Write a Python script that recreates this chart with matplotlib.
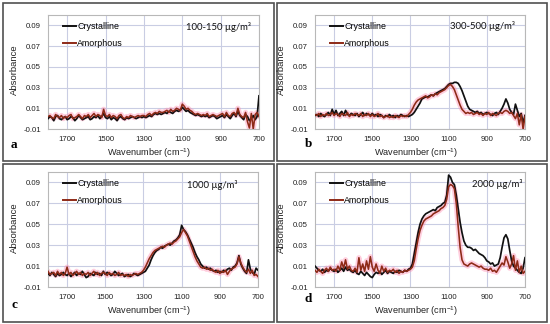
#!/usr/bin/env python3
"""FTIR absorbance of crystalline vs amorphous silica at four concentrations."""

import numpy as np
import matplotlib

matplotlib.use("Agg")
import matplotlib.pyplot as plt
from matplotlib.lines import Line2D
from matplotlib.patches import Rectangle

plt.rcParams["font.family"] = ["Liberation Sans", "DejaVu Sans"]
plt.rcParams["mathtext.fontset"] = "custom"
plt.rcParams["mathtext.rm"] = "Liberation Sans"

# wavenumber grid, 1800 -> 700 cm-1 every 10
WAVENUMBER = np.arange(1800, 699, -10)

# absorbance, in units of 0.001
A_CRYST = [
    0, 2, 1, -2, 2, 3, 0, -1, 1, 2,
    -1, 0, 2, 1, -2, 0, 3, 1, -1, 0,
    1, 2, -1, 0, 2, 1, 3, 0, 2, 5,
    1, 0, 2, -1, 1, 0, -2, 1, 2, 0,
    -1, 1, 0, 1, 2, 1, 0, 1, 2, 1,
    2, 1, 2, 3, 2, 4, 5, 4, 5, 4,
    5, 6, 5, 7, 6, 5, 7, 8, 7, 8,
    11, 9, 7, 8, 6, 5, 4, 3, 4, 3,
    2, 3, 2, 3, 1, 2, 3, 2, 0, 1,
    2, 3, 1, 4, 2, 0, 3, 5, 2, 7,
    3, 1, -1, 4, 2, -2, 0, 3, -1, 2,
    22,
]
A_AMORPH = [
    2, 3, 1, 0, 4, 2, 1, 3, 0, 2,
    1, 3, 4, 0, 1, 2, 4, 2, 0, 3,
    2, 4, 1, 3, 5, 2, 4, 3, 1, 9,
    3, 2, 4, 1, 3, 2, 0, 3, 4, 1,
    0, 2, 1, 3, 2, 1, 2, 3, 2, 3,
    3, 2, 4, 5, 3, 5, 6, 5, 7, 6,
    6, 7, 8, 6, 9, 7, 8, 10, 9, 8,
    14, 12, 9, 10, 8, 7, 5, 4, 5, 4,
    3, 4, 3, 5, 2, 3, 4, 3, 2, 3,
    4, 5, 2, 6, 3, 2, 5, 6, 3, 10,
    4, 2, 1, 6, -3, -9, 5, -10, 4, 6,
    2,
]

B_CRYST = [
    3, 4, 2, 5, 3, 2, 4, 6, 3, 9,
    4, 8, 3, 5, 7, 3, 8, 4, 3, 5,
    4, 3, 5, 2, 4, 6, 3, 5, 4, 3,
    5, 3, 4, 2, 4, 3, 1, 3, 2, 4,
    2, 3, 1, 3, 2, 4, 3, 2, 3, 2,
    3, 4, 6, 9, 12, 15, 19, 20, 21, 21,
    22, 23, 22, 24, 25, 26, 27, 28, 29, 31,
    33, 34, 34, 35, 35, 34, 31, 27, 22, 17,
    12, 9, 8, 7, 6, 7, 5, 6, 4, 5,
    6, 5, 4, 3, 5, 6, 4, 7, 10, 14,
    19, 15, 9, 6, 4, 14, 8, 2, 5, -4,
    3,
]
B_AMORPH = [
    4, 3, 5, 2, 4, 3, 5, 3, 4, 6,
    3, 5, 4, 2, 5, 4, 3, 6, 2, 4,
    3, 5, 4, 3, 5, 2, 4, 3, 5, 2,
    4, 2, 3, 5, 2, 3, 1, 2, 3, 1,
    2, 1, 3, 2, 1, 3, 2, 3, 2, 4,
    6, 9, 13, 16, 18, 19, 20, 21, 22, 20,
    21, 23, 22, 24, 23, 25, 26, 27, 28, 30,
    32, 33, 31, 28, 23, 18, 13, 9, 7, 5,
    6, 5, 6, 4, 5, 6, 4, 5, 3, 5,
    4, 6, 3, 5, 4, 3, 5, 6, 5, 7,
    8, 7, 5, 6, 3, 0, 5, -6, 4, -10,
    2,
]

C_CRYST = [
    3, 1, 4, 2, 0, 3, 1, 2, 4, 2,
    1, 3, 0, 2, 4, 1, 3, 2, 5, 2,
    -1, 0, 3, 2, 1, 4, 2, 3, 1, 5,
    2, 4, 3, 1, 2, 5, 3, 1, 2, 3,
    0, 1, 2, 0, 1, 3, 2, 1, 2, 3,
    4, 5, 8, 11, 16, 20, 23, 25, 26, 28,
    27, 29, 30, 31, 30, 32, 34, 35, 37, 40,
    49, 45, 43, 40, 36, 32, 28, 23, 19, 16,
    12, 10, 8, 9, 7, 8, 6, 5, 6, 4,
    5, 4, 6, 5, 7, 8, 6, 9, 10, 13,
    20, 12, 8, 5, 3, 16, 7, 4, 2, 8,
    6,
]
C_AMORPH = [
    5, 2, 3, 4, 1, 5, 2, 4, 1, 3,
    9, 2, 4, 1, 3, 5, 2, 4, 1, 3,
    2, 4, 1, 3, 5, 2, 4, 1, 3, 4,
    3, 1, 4, 2, 3, 1, 2, 4, 1, 2,
    1, 2, 0, 2, 1, 2, 3, 2, 3, 4,
    6, 9, 13, 17, 20, 23, 25, 26, 27, 28,
    29, 28, 30, 31, 32, 31, 33, 34, 36, 38,
    42, 45, 42, 39, 34, 29, 24, 19, 15, 12,
    9, 8, 9, 7, 8, 6, 7, 5, 4, 6,
    3, 5, 4, 6, 2, 5, 7, 8, 9, 12,
    19, 13, 9, 6, 4, 7, 3, 6, 1, 2,
    0,
]

D_CRYST = [
    10, 8, 6, 5, 7, 4, 6, 5, 8, 6,
    5, 7, 4, 6, 8, 5, 9, 6, 7, 5,
    4, 6, 3, 2, 5, 3, 1, 4, 2, 0,
    -1, 2, 4, 3, 5, 2, 4, 6, 3, 5,
    4, 3, 5, 4, 6, 5, 4, 6, 5, 7,
    8, 12, 22, 32, 42, 50, 55, 58, 60, 61,
    62, 63, 64, 63, 66, 67, 68, 70, 71, 78,
    97, 95, 90, 88, 78, 65, 52, 42, 34, 30,
    28, 28, 27, 25, 26, 24, 22, 21, 20, 18,
    15, 14, 12, 13, 10, 11, 12, 18, 28, 37,
    40, 36, 25, 15, 10, 8, 6, 4, 3, 8,
    18,
]
D_AMORPH = [
    6, 4, 7, 5, 3, 6, 8, 5, 9, 6,
    7, 5, 10, 6, 14, 8, 16, 7, 10, 6,
    5, 8, 4, 18, 6, 12, 5, 15, 7, 19,
    9, 5, 12, 6, 3, 10, 5, 8, 4, 6,
    5, 7, 4, 6, 3, 5, 4, 6, 5, 6,
    7, 9, 15, 26, 36, 44, 49, 53, 55, 56,
    57, 58, 60, 61, 62, 63, 65, 66, 68, 74,
    86, 88, 87, 84, 70, 48, 28, 16, 12, 11,
    10, 12, 13, 12, 11, 10, 9, 10, 8, 7,
    7, 6, 8, 5, 6, 4, 7, 10, 13, 11,
    19, 14, 8, 12, 20, 6, 15, 4, 10, 3,
    5,
]

LABELS = ["a", "b", "c", "d"]
CONCENTRATIONS = ["100-150 µg/m³", "300-500 µg/m³", "1000 µg/m³", "2000 µg/m³"]
X_TICKS = [1700, 1500, 1300, 1100, 900, 700]
Y_TICKS = [-0.01, 0.01, 0.03, 0.05, 0.07, 0.09]

W, H = 550, 324
BLACK = "#111111"
RED = "#8e2a17"
HALO = "#ff86ad"
GRID = "#c9cde3"


def px(x, y):
    return x / W, 1 - y / H


def main():
    fig = plt.figure(figsize=(W / 100, H / 100), dpi=100)

    # panel frames (pixels: left, top, right, bottom)
    frames = [(3, 3, 274, 161), (277, 3, 547, 161), (3, 164, 274, 322), (277, 164, 547, 322)]
    # plot areas
    areas = [(48, 15, 259, 129), (315, 15, 525, 129), (48, 172, 258, 287), (315, 172, 525, 287)]
    series = [(A_CRYST, A_AMORPH), (B_CRYST, B_AMORPH), (C_CRYST, C_AMORPH), (D_CRYST, D_AMORPH)]
    conc_pos = [(218, 27), (482, 26), (212, 185), (497, 184)]
    letter_pos = [(14, 145), (308, 144), (14, 305), (308, 299)]

    for i in range(4):
        l, t, r, b = frames[i]
        fig.patches.append(Rectangle(px(l, b), (r - l) / W, (b - t) / H,
                                     transform=fig.transFigure, fill=False,
                                     edgecolor="#505050", linewidth=1.2))

        l, t, r, b = areas[i]
        ax = fig.add_axes([l / W, 1 - b / H, (r - l) / W, (b - t) / H])
        cryst = np.array(series[i][0]) / 1000.0
        amorph = np.array(series[i][1]) / 1000.0

        ax.plot(WAVENUMBER, amorph, color=HALO, lw=3.8, alpha=0.4, zorder=2,
                solid_capstyle="round")
        ax.plot(WAVENUMBER, cryst, color=BLACK, lw=1.25, zorder=3)
        ax.plot(WAVENUMBER, amorph, color=RED, lw=1.15, zorder=4)

        ax.set_xlim(1800, 700)
        ax.set_ylim(-0.01, 0.10)
        ax.set_xticks(X_TICKS)
        ax.set_yticks(Y_TICKS)
        ax.set_yticklabels([f"{v:.2f}" for v in Y_TICKS])
        ax.tick_params(length=0, labelsize=5.6, colors="#222222")
        ax.tick_params(axis="y", pad=5)
        ax.tick_params(axis="x", pad=5)
        ax.grid(True, color=GRID, lw=0.8, zorder=0)
        ax.set_axisbelow(True)
        for sp in ax.spines.values():
            sp.set_color("#b8b8b8")
            sp.set_linewidth(0.8)

        handles = [Line2D([], [], color=BLACK, lw=1.4),
                   Line2D([], [], color=RED, lw=1.4)]
        ax.legend(handles, ["Crystalline", "Amorphous"], loc="upper left",
                  bbox_to_anchor=(15 / (r - l), 1 - 7 / (b - t)), frameon=False,
                  fontsize=6.4, handlelength=1.5, handletextpad=0.1,
                  labelspacing=0.95, borderpad=0, borderaxespad=0)

        cx, cy = conc_pos[i]
        fig.text(*px(cx, cy), CONCENTRATIONS[i], family=["Lato", "DejaVu Sans"],
                 fontsize=6.8, ha="center", va="center", color="#111111")

        lx, ly = letter_pos[i]
        fig.text(*px(lx, ly), LABELS[i], family=["Liberation Serif", "DejaVu Serif"],
                 fontsize=9.5, fontweight="bold", ha="center", va="center")

        # axis titles
        fig.text(*px(l - 34, (t + b) / 2 - 2), "Absorbance", rotation=90,
                 fontsize=6.8, ha="center", va="center", color="#222222")
        fig.text(*px((l + r) / 2 - 4, b + 24), r"Wavenumber (cm$^{\mathregular{-1}}$)",
                 fontsize=6.6, ha="center", va="center", color="#222222")

    fig.savefig("out.png", dpi=100)
    plt.close(fig)


if __name__ == "__main__":
    main()
